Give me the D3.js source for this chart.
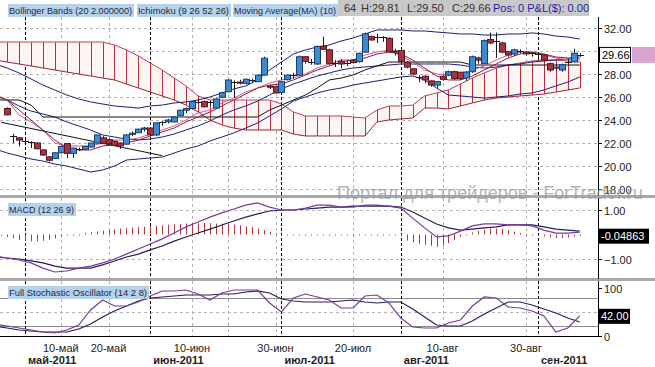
<!DOCTYPE html>
<html>
<head>
<meta charset="utf-8">
<script src="https://cdnjs.cloudflare.com/ajax/libs/d3/7.8.5/d3.min.js"></script>
<style>
  body { margin: 0; background: #fff; }
  svg { display: block; font-family: "Liberation Sans", Arial, sans-serif; }
</style>
</head>
<body>
<div id="chart"></div>
<script>
//////////////////////////////
//          Data            //
//////////////////////////////

// trading days shown on the chart
var dates = [
  "2011-04-25","2011-04-26","2011-04-27","2011-04-28","2011-04-29",
  "2011-05-02","2011-05-03","2011-05-04","2011-05-05","2011-05-06","2011-05-09","2011-05-10","2011-05-11","2011-05-12","2011-05-13",
  "2011-05-16","2011-05-17","2011-05-18","2011-05-19","2011-05-20","2011-05-23","2011-05-24","2011-05-25","2011-05-26","2011-05-27","2011-05-31",
  "2011-06-01","2011-06-02","2011-06-03","2011-06-06","2011-06-07","2011-06-08","2011-06-09","2011-06-10","2011-06-13","2011-06-14","2011-06-15",
  "2011-06-16","2011-06-17","2011-06-20","2011-06-21","2011-06-22","2011-06-23","2011-06-24","2011-06-27","2011-06-28","2011-06-29","2011-06-30",
  "2011-07-01","2011-07-05","2011-07-06","2011-07-07","2011-07-08","2011-07-11","2011-07-12","2011-07-13","2011-07-14","2011-07-15",
  "2011-07-18","2011-07-19","2011-07-20","2011-07-21","2011-07-22","2011-07-25","2011-07-26","2011-07-27","2011-07-28","2011-07-29",
  "2011-08-01","2011-08-02","2011-08-03","2011-08-04","2011-08-05","2011-08-08","2011-08-09","2011-08-10","2011-08-11","2011-08-12",
  "2011-08-15","2011-08-16","2011-08-17","2011-08-18","2011-08-19","2011-08-22","2011-08-23","2011-08-24","2011-08-25","2011-08-26",
  "2011-08-29","2011-08-30","2011-08-31","2011-09-01","2011-09-02","2011-09-06","2011-09-07","2011-09-08","2011-09-09","2011-09-12","2011-09-13"
];

var open = [
  null, null, 25.0, 22.6, 22.45, 22.25, 22.1, 22.0, 21.4, 20.8,
  20.65, 21.15, 21.95, 21.1, 21.45, 21.45, 21.65, 22.0, 22.45, 22.3,
  22.15, 22.0, 21.9, 22.75, 22.9, 23.2, 23.3, 22.7, 23.75, 23.85,
  23.83, 24.4, 24.85, 25.0, 25.6, 25.6, 25.6, 25.04, 25.97, 26.46,
  27.35, 27.3, 27.19, 27.45, 27.33, 27.91, 26.95, 26.9, 26.4, 27.5,
  27.9, 27.9, 29.5, 29.1, 28.87, 30.4, 30.1, 29.0, 29.1, 29.0,
  29.2, 29.07, 29.9, 31.25, 31.25, 31.2, 31.1, 30.0, 30.05, 29.0,
  28.45, 27.75, 27.8, 27.4, 27.04, 27.8, 27.9, 28.2, 28.15, 27.65,
  28.2, 29.4, 28.9, 31.0, 30.85, 30.7, 29.94, 29.74, 30.0, 29.9,
  29.8, 29.75, 29.65, 28.9, 28.5, 28.35, 29.07, 29.07, 29.64
];
var high = [
  null, null, 25.1, 22.8, 22.5, 22.3, 22.15, 22.05, 21.45, 20.85,
  21.2, 21.7, 22.0, 21.6, 21.6, 21.75, 22.0, 22.7, 22.6, 22.4,
  22.2, 22.05, 22.75, 23.0, 23.25, 23.4, 23.35, 23.8, 23.9, 24.1,
  24.3, 24.9, 25.1, 25.65, 25.8, 25.7, 25.65, 25.9, 26.45, 27.55,
  27.45, 27.5, 27.6, 27.6, 27.95, 29.5, 27.05, 27.0, 27.4, 27.95,
  28.1, 29.6, 29.55, 29.3, 30.45, 31.25, 30.2, 29.2, 29.3, 29.2,
  29.3, 29.85, 31.6, 31.35, 31.5, 31.3, 31.2, 30.2, 30.2, 29.1,
  28.5, 27.9, 27.9, 27.45, 27.4, 27.9, 28.3, 28.3, 28.2, 28.25,
  29.6, 29.5, 31.0, 31.6, 31.6, 30.8, 30.0, 30.2, 30.15, 30.0,
  29.9, 29.85, 29.7, 29.0, 28.9, 28.9, 29.3, 30.2, 29.81
];
var low = [
  null, null, 24.4, 22.0, 21.7, 21.8, 21.55, 21.45, 20.9, 20.4,
  20.6, 21.1, 20.7, 20.7, 21.3, 21.4, 21.6, 21.95, 21.9, 21.9,
  21.75, 21.5, 21.85, 22.6, 22.85, 23.0, 22.6, 22.6, 23.5, 23.7,
  23.8, 24.35, 24.6, 24.95, 25.4, 25.1, 25.2, 25.0, 25.9, 26.4,
  25.9, 27.1, 27.1, 27.3, 27.3, 27.85, 26.7, 26.3, 26.35, 27.45,
  27.6, 27.85, 28.9, 28.8, 28.8, 30.1, 28.8, 28.6, 28.5, 28.7,
  28.9, 29.0, 29.85, 30.9, 30.7, 30.8, 29.9, 29.6, 29.0, 28.5,
  27.9, 27.3, 27.2, 26.9, 26.8, 27.4, 27.8, 27.5, 27.5, 27.4,
  28.1, 28.9, 28.85, 30.6, 29.4, 29.8, 29.5, 29.6, 29.8, 29.6,
  29.5, 29.4, 29.1, 28.2, 28.3, 28.2, 28.8, 29.0, 29.5
];
var close = [
  null, null, 24.45, 22.65, 22.25, 22.2, 22.05, 21.5, 20.95, 20.5,
  21.15, 21.7, 21.1, 21.55, 21.45, 21.7, 22.0, 22.7, 21.95, 21.95,
  21.8, 21.75, 22.7, 22.85, 23.2, 23.3, 22.7, 23.75, 23.8, 24.0,
  24.26, 24.85, 25.0, 25.6, 25.55, 25.15, 25.6, 25.83, 26.37, 27.48,
  27.33, 27.2, 27.54, 27.45, 27.9, 29.37, 26.85, 26.35, 27.33, 27.9,
  27.95, 29.5, 29.1, 29.05, 30.4, 30.15, 28.9, 28.95, 28.87, 29.0,
  29.0, 29.8, 31.5, 30.96, 31.25, 31.2, 29.94, 29.9, 29.1, 28.6,
  28.0, 27.7, 27.48, 27.04, 27.33, 27.54, 28.2, 27.6, 27.6, 28.17,
  29.5, 29.2, 30.9, 30.7, 30.85, 29.9, 29.65, 30.1, 30.0, 29.75,
  29.8, 29.7, 29.2, 28.35, 28.6, 28.8, 29.07, 29.8, 29.66
];

// indicator lines, one value for every second trading day (dates[0], dates[2], ...)
var bbUpper = [28.87, 28.52, 28.09, 27.57, 27.04, 26.61, 26.17, 25.83, 25.57, 25.39,
  25.22, 25.13, 25.04, 25.22, 25.30, 25.48, 25.57, 25.74, 26.00, 26.35,
  26.70, 26.96, 27.48, 28.35, 29.04, 29.74, 30.09, 30.35, 30.52, 30.87,
  31.13, 31.48, 31.83, 31.83, 31.83, 31.74, 31.74, 31.65, 31.57, 31.48,
  31.48, 31.39, 31.39, 31.48, 31.48, 31.57, 31.48, 31.30, 31.22, 31.04];
var bbMiddle = [26.09, 25.74, 25.22, 24.78, 24.52, 24.26, 23.83, 23.48, 23.13, 22.70,
  22.52, 22.35, 22.26, 22.35, 22.52, 22.78, 23.13, 23.48, 23.91, 24.43,
  24.87, 25.22, 25.65, 26.17, 26.70, 27.13, 27.48, 27.83, 28.09, 28.35,
  28.52, 28.61, 28.70, 28.78, 28.87, 28.87, 28.87, 28.87, 28.87, 28.78,
  28.61, 28.52, 28.61, 28.78, 28.87, 29.04, 29.13, 29.22, 29.30, 29.39];
var bbLower = [21.48, 21.13, 20.87, 20.61, 20.43, 20.17, 20.00, 19.74, 19.48, 19.65,
  20.00, 20.52, 20.61, 20.70, 20.78, 21.13, 21.48, 21.74, 22.17, 22.52,
  22.87, 23.30, 23.74, 24.35, 24.96, 25.65, 26.00, 26.35, 26.61, 26.78,
  27.04, 27.22, 27.39, 27.57, 27.74, 27.83, 27.48, 26.78, 26.17, 26.09,
  26.00, 25.91, 26.00, 26.09, 26.26, 26.35, 26.61, 26.96, 27.30, 27.74];
var ma10 = [26.17, 25.74, 24.87, 24.00, 23.13, 22.26, 21.57, 21.39, 21.39, 21.74,
  21.83, 22.00, 22.26, 22.61, 22.96, 23.30, 23.83, 24.26, 24.70, 25.22,
  25.74, 26.26, 26.78, 27.04, 27.13, 27.48, 27.91, 28.35, 28.70, 29.04,
  29.22, 29.39, 29.74, 29.91, 29.74, 29.22, 28.52, 27.83, 27.48, 27.48,
  27.83, 28.35, 28.87, 29.39, 29.74, 29.91, 29.74, 29.48, 29.39, 29.48];
var tenkan = [26.17, 25.74, 24.43, 23.83, 23.13, 22.00, 21.74, 21.74, 21.74, 22.00,
  22.26, 22.26, 22.43, 22.78, 23.13, 23.48, 24.00, 24.61, 24.87, 25.48,
  25.91, 26.43, 26.78, 27.22, 27.48, 27.65, 28.00, 28.52, 28.87, 29.22,
  29.22, 29.65, 29.91, 30.09, 29.57, 29.04, 28.35, 28.00, 27.91, 27.91,
  28.35, 28.70, 29.22, 29.65, 29.91, 29.91, 29.65, 29.39, 29.22, 29.22];
var kijun = [25.74, 25.74, 25.74, 25.30, 24.26, 24.26, 24.26, 24.26, 24.26, 24.26,
  24.26, 24.26, 24.26, 24.26, 24.26, 24.26, 24.26, 24.26, 24.26, 24.26,
  24.26, 24.26, 24.26, 24.87, 25.30, 25.74, 26.17, 26.78, 27.48, 27.65,
  27.91, 28.35, 28.70, 29.04, 29.04, 29.04, 29.04, 29.04, 29.04, 29.04,
  28.78, 28.78, 28.78, 28.78, 28.78, 28.78, 28.78, 28.78, 28.78, 28.78];
var senkouA = [30.78, 30.78, 30.78, 30.78, 30.78, 30.78, 30.78, 30.78, 30.78, 30.78,
  30.52, 30.09, 29.57, 28.96, 28.35, 27.65, 26.96, 26.09, 25.74, 25.74,
  25.74, 25.74, 25.74, 25.74, 25.39, 24.70, 24.35, 24.35, 24.35, 24.35,
  24.26, 24.17, 24.87, 25.22, 25.22, 25.30, 26.09, 26.35, 26.61, 27.13,
  27.65, 28.09, 28.52, 28.78, 28.96, 29.13, 29.22, 29.22, 29.13, 29.04];
var senkouB = [29.22, 29.04, 28.87, 28.70, 28.52, 28.35, 28.17, 28.00, 27.83, 27.65,
  27.48, 27.13, 26.78, 26.43, 26.09, 25.74, 25.30, 24.70, 24.00, 23.57,
  23.30, 23.13, 23.13, 23.13, 23.13, 22.78, 22.61, 22.61, 22.61, 22.61,
  22.61, 22.61, 23.83, 24.00, 24.09, 24.17, 25.04, 25.04, 24.96, 25.22,
  25.48, 25.74, 25.91, 26.00, 26.09, 26.17, 26.26, 26.43, 26.61, 26.78];

// a drawn trend line (start date, start price, end date, end price)
var trendFrom = ["2011-04-26", 23.8];
var trendTo = ["2011-06-03", 20.9];

var macdLine = [-0.88, -0.96, -1.04, -1.16, -1.37, -1.53, -1.49, -1.37, -1.29, -1.16,
  -1.00, -0.80, -0.59, -0.39, -0.18, 0.06, 0.31, 0.51, 0.71, 0.88,
  1.04, 1.20, 1.29, 1.12, 1.00, 1.00, 1.08, 1.20, 1.20, 1.12,
  1.12, 1.20, 1.20, 1.16, 1.08, 0.67, 0.27, -0.10, -0.06, 0.14,
  0.35, 0.43, 0.43, 0.39, 0.39, 0.35, 0.18, 0.06, 0.06, 0.10];
var macdSignal = [-0.92, -0.96, -1.00, -1.08, -1.16, -1.29, -1.37, -1.37, -1.37, -1.24,
  -1.08, -0.92, -0.80, -0.63, -0.47, -0.27, -0.10, 0.06, 0.22, 0.39,
  0.55, 0.71, 0.84, 0.96, 1.00, 1.00, 1.04, 1.08, 1.12, 1.12,
  1.16, 1.16, 1.16, 1.16, 1.12, 0.92, 0.67, 0.43, 0.27, 0.18,
  0.22, 0.27, 0.31, 0.39, 0.39, 0.39, 0.31, 0.22, 0.18, 0.14];
// histogram, one bar per trading day
var macdHist = [-0.03, -0.05, -0.10, -0.15,
  -0.22, -0.26, -0.28, -0.28, -0.26, -0.22, -0.16,
  -0.08, -0.02, 0.01, 0.03,
  0.06, 0.09, 0.12, 0.15, 0.18, 0.21, 0.24,
  0.26, 0.28, 0.30, 0.32, 0.34, 0.36, 0.38, 0.40, 0.42, 0.43,
  0.45, 0.46, 0.47, 0.47, 0.46, 0.45, 0.44, 0.42, 0.40, 0.38,
  0.34, 0.30, 0.24, 0.18, 0.10, 0.05,
  0.02, 0.03, 0.02, 0.03, 0.02, 0.02, 0.03, 0.02, 0.02, 0.03, 0.02, 0.02, 0.03, 0.02, 0.02, 0.02, 0.01, 0.01, 0.0, -0.02,
  -0.08, -0.25, -0.32, -0.38, -0.42, -0.46, -0.50, -0.45, -0.35, -0.22, -0.10,
  0.0, 0.08, 0.14, 0.20, 0.24, 0.25, 0.22, 0.18, 0.12, 0.06,
  0.02, 0.0, -0.03, -0.08, -0.12, -0.15, -0.15, -0.12, -0.08, -0.05];

var stochK = [25.0, 20.8, 16.7, 12.5, 8.3, 6.3, 12.5, 22.9, 54.2, 75.0,
  62.5, 62.5, 70.8, 83.3, 93.8, 93.8, 95.8, 87.5, 75.0, 89.6,
  95.8, 95.8, 95.8, 68.8, 50.0, 79.2, 87.5, 81.3, 75.0, 58.3,
  58.3, 83.3, 85.4, 68.8, 37.5, 18.8, 16.7, 16.7, 27.1, 33.3,
  62.5, 81.3, 79.2, 60.4, 58.3, 52.1, 41.7, 8.3, 16.7, 42.0];
var stochD = [20.8, 16.7, 12.5, 10.4, 8.3, 8.3, 8.3, 14.6, 25.0, 39.6,
  52.1, 62.5, 72.9, 79.2, 81.3, 83.3, 85.4, 85.4, 85.4, 87.5,
  87.5, 91.7, 93.8, 89.6, 77.1, 72.9, 70.8, 70.8, 70.8, 72.9,
  75.0, 70.8, 68.8, 70.8, 70.8, 56.3, 39.6, 22.9, 20.8, 20.8,
  31.3, 45.8, 58.3, 70.8, 70.8, 64.6, 56.3, 47.9, 37.5, 29.2];

// axis ticks and labels
var priceTicks = [18, 20, 22, 24, 26, 28, 30, 32];
var macdTicks = [-1, 1];
var stochTicks = [0, 100];
var monthStarts = ["2011-05-02", "2011-06-01", "2011-07-01", "2011-08-01", "2011-09-01"];
var monthLabels = ["май-2011", "июн-2011", "июл-2011", "авг-2011", "сен-2011"];
var gridDates = ["2011-05-10", "2011-05-20", "2011-06-10", "2011-06-20", "2011-06-30", "2011-07-20", "2011-08-10", "2011-08-30"];
var dayLabels = ["10-май", "20-май", "10-июн", "", "30-июн", "20-июл", "10-авг", "30-авг"];

var lastPrice = 29.66, lastMacd = -0.04863, lastStoch = 42.00;

//////////////////////////////
//         Layout           //
//////////////////////////////
var W = 655, H = 367, axisX = 598;
var panes = {
  price: { top: 17, bottom: 195 },
  macd:  { top: 198, bottom: 278 },
  stoch: { top: 281, bottom: 336 }
};

var svg = d3.select('#chart').append('svg')
  .attr('width', W).attr('height', H);

svg.append('rect').attr('width', W).attr('height', H).attr('fill', '#fff');

var x = d3.scalePoint().domain(dates).range([-4.8, 579.7]);
var yP = d3.scaleLinear().domain([18, 32]).range([189, 28]);
var yM = d3.scaleLinear().domain([-1, 1]).range([259, 210]);
var yS = d3.scaleLinear().domain([0, 100]).range([336, 288]);

var lineDates = dates.filter(function(d, i) { return i % 2 === 0 });

var defs = svg.append('defs');
Object.keys(panes).forEach(function(k) {
  defs.append('clipPath').attr('id', 'clip-' + k)
    .append('rect')
    .attr('x', 0).attr('y', panes[k].top)
    .attr('width', axisX).attr('height', panes[k].bottom - panes[k].top);
});

var gPrice = svg.append('g').attr('clip-path', 'url(#clip-price)');
var gMacd = svg.append('g').attr('clip-path', 'url(#clip-macd)');
var gStoch = svg.append('g').attr('clip-path', 'url(#clip-stoch)');

// Grid *****
function vGrid(g, pane) {
  g.selectAll('line.vgrid').data(gridDates).enter().append('line')
    .attr('x1', function(d) { return Math.round(x(d)) + 0.5 })
    .attr('x2', function(d) { return Math.round(x(d)) + 0.5 })
    .attr('y1', pane.top).attr('y2', pane.bottom)
    .attr('stroke', '#b4b4b4').attr('stroke-dasharray', '3,3');
  g.selectAll('line.mgrid').data(monthStarts).enter().append('line')
    .attr('x1', function(d) { return Math.round(x(d)) + 0.5 })
    .attr('x2', function(d) { return Math.round(x(d)) + 0.5 })
    .attr('y1', pane.top).attr('y2', pane.bottom)
    .attr('stroke', '#000').attr('stroke-dasharray', '3,2');
}

function hGrid(g, vals, scale, dash, color) {
  g.selectAll(null).data(vals).enter().append('line')
    .attr('x1', 0).attr('x2', axisX)
    .attr('y1', function(d) { return Math.round(scale(d)) + 0.5 })
    .attr('y2', function(d) { return Math.round(scale(d)) + 0.5 })
    .attr('stroke', color || '#b4b4b4')
    .attr('stroke-dasharray', dash);
}

hGrid(gPrice, priceTicks, yP, '3,3');
vGrid(gPrice, panes.price);
hGrid(gMacd, macdTicks, yM, '3,3');
vGrid(gMacd, panes.macd);
hGrid(gStoch, [50], yS, '3,3');
hGrid(gStoch, [20, 80], yS, null, '#8c8c8c');
vGrid(gStoch, panes.stoch);

// Ichimoku cloud *****
var cloud = lineDates.map(function(d, i) { return { d: d, a: senkouA[i], b: senkouB[i] } });

gPrice.append('path').datum(cloud)
  .attr('d', d3.area()
    .x(function(c) { return x(c.d) })
    .y0(function(c) { return yP(c.a) })
    .y1(function(c) { return yP(c.b) }))
  .attr('fill', '#fdf4f4');

gPrice.selectAll('line.hatch').data(cloud).enter().append('line')
  .attr('x1', function(c) { return Math.round(x(c.d)) + 0.5 })
  .attr('x2', function(c) { return Math.round(x(c.d)) + 0.5 })
  .attr('y1', function(c) { return yP(c.a) })
  .attr('y2', function(c) { return yP(c.b) })
  .attr('stroke', '#b8303c').attr('stroke-width', 1);

function drawLine(g, vals, scale, color, width) {
  g.append('path').datum(vals)
    .attr('d', d3.line()
      .x(function(v, i) { return x(lineDates[i]) })
      .y(function(v) { return scale(v) }))
    .attr('fill', 'none')
    .attr('stroke', color)
    .attr('stroke-width', width || 1);
}

drawLine(gPrice, senkouA, yP, '#c0404c');
drawLine(gPrice, senkouB, yP, '#a3202e');

// Bollinger + MA + Ichimoku lines
drawLine(gPrice, bbUpper, yP, '#1f1f78');
drawLine(gPrice, bbMiddle, yP, '#1f1f78');
drawLine(gPrice, bbLower, yP, '#1f1f78');
drawLine(gPrice, kijun, yP, '#111');
drawLine(gPrice, tenkan, yP, '#d0589a');
drawLine(gPrice, ma10, yP, '#8e1f3a');

gPrice.append('line')
  .attr('x1', x(trendFrom[0])).attr('y1', yP(trendFrom[1]))
  .attr('x2', x(trendTo[0])).attr('y2', yP(trendTo[1]))
  .attr('stroke', '#111');

// Candles *****
var bars = dates.map(function(d, i) {
  return { d: d, o: open[i], h: high[i], l: low[i], c: close[i] };
}).filter(function(b) { return b.o !== null });

var candle = gPrice.selectAll('g.candle').data(bars).enter().append('g');

candle.append('line')
  .attr('x1', function(b) { return Math.round(x(b.d)) + 0.5 })
  .attr('x2', function(b) { return Math.round(x(b.d)) + 0.5 })
  .attr('y1', function(b) { return yP(b.h) })
  .attr('y2', function(b) { return yP(b.l) })
  .attr('stroke', '#1a1a1a');

candle.each(function(b) {
  var g = d3.select(this);
  var cx = Math.round(x(b.d));
  if (Math.abs(b.c - b.o) < 0.06) {
    // doji: a plain cross
    g.append('line')
      .attr('x1', cx - 3).attr('x2', cx + 4)
      .attr('y1', Math.round(yP(b.c)) + 0.5).attr('y2', Math.round(yP(b.c)) + 0.5)
      .attr('stroke', '#1a1a1a');
  } else {
    var up = b.c > b.o;
    g.append('rect')
      .attr('x', cx - 2.5)
      .attr('y', yP(Math.max(b.o, b.c)))
      .attr('width', 6)
      .attr('height', Math.abs(yP(b.o) - yP(b.c)))
      .attr('fill', up ? '#3a8bd6' : '#a8323e')
      .attr('stroke', up ? '#1c3c6c' : '#561820')
      .attr('stroke-width', 1);
  }
});

// MACD *****
gMacd.selectAll('line.hist').data(macdHist).enter().append('line')
  .attr('x1', function(v, i) { return Math.round(x(dates[i])) + 0.5 })
  .attr('x2', function(v, i) { return Math.round(x(dates[i])) + 0.5 })
  .attr('y1', yM(0))
  .attr('y2', function(v) {
    var y = yM(v);
    return Math.abs(y - yM(0)) < 1 ? yM(0) + 1 : y;
  })
  .attr('stroke', '#b03a3a');

drawLine(gMacd, macdSignal, yM, '#20205e', 1.2);
drawLine(gMacd, macdLine, yM, '#7a3a9e', 1.2);

// Stochastic *****
drawLine(gStoch, stochD, yS, '#20205e', 1.2);
drawLine(gStoch, stochK, yS, '#7a3a9e', 1.2);

// Frames and separators *****
svg.append('rect').attr('x', 0).attr('y', 195).attr('width', W).attr('height', 3).attr('fill', '#a9a9a9');
svg.append('rect').attr('x', 0).attr('y', 278).attr('width', W).attr('height', 3).attr('fill', '#a9a9a9');

[panes.price, panes.macd, panes.stoch].forEach(function(p) {
  svg.append('line')
    .attr('x1', axisX + 0.5).attr('x2', axisX + 0.5)
    .attr('y1', p.top).attr('y2', p.bottom + 1)
    .attr('stroke', '#000');
});
svg.append('line')
  .attr('x1', 0).attr('x2', axisX).attr('y1', 336.5).attr('y2', 336.5)
  .attr('stroke', '#000');

// Right axis labels (those under a value box are not drawn) *****
function axisLabels(vals, scale, fmt, hiddenNear) {
  vals.forEach(function(v) {
    var y = Math.round(scale(v)) + 0.5;
    svg.append('line').attr('x1', axisX).attr('x2', axisX + 4)
      .attr('y1', y).attr('y2', y).attr('stroke', '#000');
    if (hiddenNear !== undefined && Math.abs(scale(v) - scale(hiddenNear)) < 12) return;
    svg.append('text').attr('x', axisX + 6).attr('y', y + 4)
      .attr('font-size', 11).attr('fill', '#222').text(fmt(v));
  });
}
axisLabels(priceTicks, yP, d3.format('.2f'), lastPrice);
axisLabels(macdTicks, yM, d3.format('.2f'));
axisLabels(stochTicks, yS, d3.format('d'));

// current value boxes
var py = yP(lastPrice);
svg.append('rect').attr('x', 632).attr('y', py - 8).attr('width', 23).attr('height', 16).attr('fill', '#d9a3cf');
svg.append('rect').attr('x', 599.5).attr('y', py - 7.5).attr('width', 31).attr('height', 15)
  .attr('fill', '#fff').attr('stroke', '#000');
svg.append('text').attr('x', 602).attr('y', py + 4).attr('font-size', 11).attr('fill', '#000').text(d3.format('.2f')(lastPrice));

var my = yM(lastMacd);
svg.append('rect').attr('x', 599).attr('y', my - 7).attr('width', 50).attr('height', 15).attr('fill', '#000');
svg.append('text').attr('x', 601).attr('y', my + 4).attr('font-size', 11).attr('fill', '#fff').text(lastMacd.toFixed(5));

var sy = yS(lastStoch);
svg.append('rect').attr('x', 599).attr('y', sy - 7).attr('width', 31).attr('height', 15).attr('fill', '#000');
svg.append('text').attr('x', 601).attr('y', sy + 4).attr('font-size', 11).attr('fill', '#fff').text(lastStoch.toFixed(2));

// Date axis *****
gridDates.forEach(function(d, i) {
  if (!dayLabels[i]) return;
  svg.append('text').attr('x', x(d)).attr('y', 352)
    .attr('text-anchor', 'middle').attr('font-size', 11).attr('fill', '#222')
    .text(dayLabels[i]);
});
monthStarts.forEach(function(d, i) {
  svg.append('text').attr('x', x(d) + 3).attr('y', 364)
    .attr('font-size', 11).attr('font-weight', 'bold').attr('fill', '#222')
    .text(monthLabels[i]);
});

// Header *****
svg.append('rect').attr('x', 338).attr('y', 0).attr('width', 251).attr('height', 16).attr('fill', '#c8c8c8');
svg.append('text').attr('x', 344).attr('y', 12).attr('font-size', 11).attr('fill', '#333').text('64');
svg.append('text').attr('x', 361).attr('y', 12).attr('font-size', 11).attr('fill', '#333').text('H:29.81');
svg.append('text').attr('x', 407).attr('y', 12).attr('font-size', 11).attr('fill', '#333').text('L:29.50');
svg.append('text').attr('x', 452).attr('y', 12).attr('font-size', 11).attr('fill', '#333').text('C:29.66');
svg.append('text').attr('x', 493).attr('y', 12).attr('font-size', 11).attr('fill', '#1c1caa').text('Pos: 0 P&L($): 0.00');

function tag(txt, x0, y0, w) {
  svg.append('rect').attr('x', x0).attr('y', y0).attr('width', w).attr('height', 13).attr('fill', '#b6d1ec');
  svg.append('text').attr('x', x0 + 1).attr('y', y0 + 10)
    .attr('font-size', 9).attr('fill', '#1b2a3a')
    .attr('textLength', w - 3).attr('lengthAdjust', 'spacingAndGlyphs')
    .text(txt);
}
tag('Bollinger Bands (20 2.000000)', 8, 4, 126);
tag('Ichimoku (9 26 52 26)', 137, 4, 94);
tag('Moving Average(MA) (10)', 233, 4, 105);
tag('MACD (12 26 9)', 8, 203, 68);
tag('Full Stochastic Oscillator (14 2 8)', 8, 286, 141);

// watermark
svg.append('text').attr('x', 337).attr('y', 199)
  .attr('font-size', 18).attr('fill', '#9a9a9a').attr('fill-opacity', 0.75)
  .text('Портал для трейдеров - ForTrader.ru');
</script>
</body>
</html>
